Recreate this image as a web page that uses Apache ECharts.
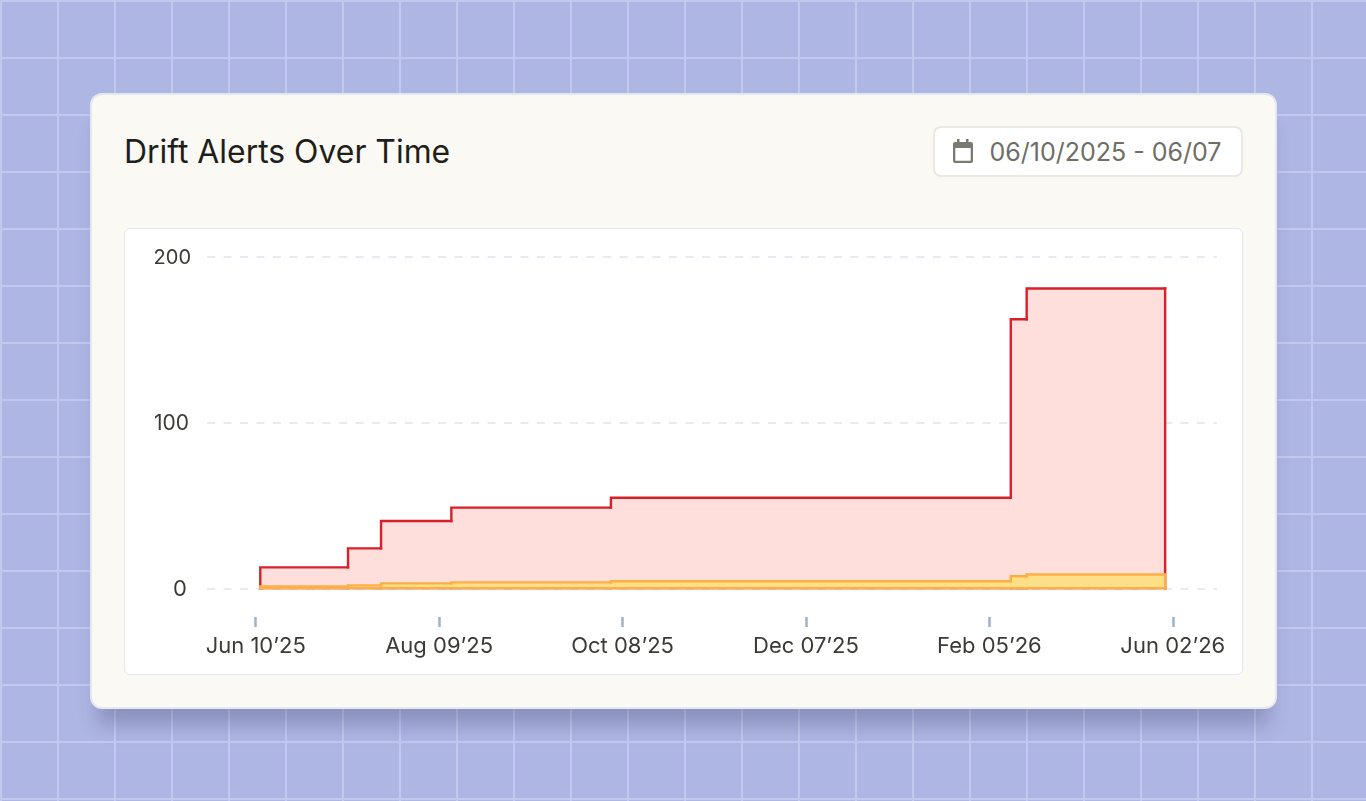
<!DOCTYPE html>
<html><head><meta charset="utf-8">
<script src="https://cdn.jsdelivr.net/npm/echarts@6/dist/echarts.min.js"></script>
<style>
html,body{margin:0;padding:0;width:1366px;height:801px;overflow:hidden;font-family:Inter,sans-serif}
body{background-color:#aeb6e3;background-image:linear-gradient(#c3c9ee 2px,transparent 2px),linear-gradient(90deg,#c3c9ee 2px,transparent 2px);background-size:57px 57px;background-position:0 0}
#card{position:absolute;left:90px;top:93px;width:1187px;height:616px;box-sizing:border-box;background:#fbf9f4;border:2px solid #e5e8f1;border-radius:12px;box-shadow:0 24px 20px -8px rgba(50,50,90,.28)}
#title{position:absolute;left:124px;top:131px;font-size:31.9px;line-height:42px;color:#1f1e1b;white-space:nowrap}
#date{position:absolute;left:933px;top:126px;width:310px;height:51px;box-sizing:border-box;background:#fff;border:2px solid #ebe8e1;border-radius:8px}
#date svg{position:absolute;left:16px;top:10px}
#date span{position:absolute;left:54.500px;top:9px;font-size:25px;line-height:30px;color:#6f6e66;white-space:nowrap}
#panel{position:absolute;left:124px;top:228px;width:1119px;height:447px;box-sizing:border-box;background:#fff;border:1px solid #e3e8f0;border-radius:6px}
#chart{position:absolute;left:125px;top:229px;width:1117px;height:445px}
</style></head><body>
<div id="card"></div>
<div id="title">Drift Alerts Over Time</div>
<div id="date"><svg width="24" height="26" viewBox="0 0 24 26"><path fill="#7b7a72" d="M6 1h2.500v3H15V1h2.500v3H20a2 2 0 0 1 2 2v17a2 2 0 0 1-2 2H4a2 2 0 0 1-2-2V6a2 2 0 0 1 2-2h2zM4.300 10v12.700h15.400V10z"/></svg><span>06/10/2025 - 06/07</span></div>
<div id="panel"></div>
<div id="chart"></div>
<script>
var tickLabels=["Jun 10’25","Aug 09’25","Oct 08’25","Dec 07’25","Feb 05’26","Jun 02’26"];
var tickDays=[0,60,120,180,240,300];
var yTicks=[0,100,200];
var stepDays=[1.5,30.2,41,64,116.2,247,252.2,297.5];
var redValues=[13,24.5,41,49,55,162.5,181];
var orangeValues=[1.6,2.2,3.4,4,4.7,7.7,8.7];
var baseValue=0.5;
function stepData(values){
  return values.map(function(v,i){
    return [stepDays[i],stepDays[i+1],v,i?values[i-1]:baseValue];
  });
}
function stepSeries(values,stroke,fill,z){
  var last=values.length-1;
  return {type:'custom',data:stepData(values),z:z,clip:false,silent:true,
    encode:{x:[0,1],y:2},
    renderItem:function(params,api){
      var s=api.value(0),e=api.value(1),v=api.value(2),p=api.value(3);
      var tl=api.coord([s,v]),tr=api.coord([e,v]),bl=api.coord([s,baseValue]),br=api.coord([e,baseValue]),pl=api.coord([s,p]);
      var over=params.dataIndex<last?0.6:0;
      var line={stroke:stroke,lineWidth:2.4,fill:null,lineJoin:'miter',lineCap:'square'};
      var kids=[
        {type:'polygon',z2:1,shape:{points:[tl,[tr[0]+over,tr[1]],[br[0]+over,br[1]],bl]},style:{fill:fill}},
        {type:'polyline',z2:5,shape:{points:[pl,tl,tr]},style:line},
        {type:'polyline',z2:5,shape:{points:[bl,br]},style:line}
      ];
      if(params.dataIndex===last){kids.push({type:'polyline',z2:5,shape:{points:[tr,br]},style:line});}
      return {type:'group',children:kids};
    }};
}
var ch=echarts.init(document.getElementById('chart'),null,{renderer:'canvas'});
var ff='Inter';
var xMin=-15.93,xMax=314.46;
ch.setOption({
  animation:false,
  grid:[{left:82,right:25,top:28,bottom:85},{left:82,right:25,top:387,height:1}],
  xAxis:[
    {type:'value',gridIndex:0,min:xMin,max:xMax,show:false},
    {type:'value',gridIndex:1,min:xMin,max:xMax,splitLine:{show:false},axisLine:{show:false},
     axisTick:{show:true,customValues:tickDays,length:10,lineStyle:{color:'#9fb0cb',width:2.500}},
     axisLabel:{customValues:tickDays,color:'#3a3a36',fontFamily:ff,fontSize:22,margin:18,hideOverlap:false,
       formatter:function(v){return tickLabels[tickDays.indexOf(v)];}}}
  ],
  yAxis:[
    {type:'value',gridIndex:0,min:0,max:200,interval:100,axisLine:{show:false},axisTick:{show:false},
     axisLabel:{margin:16,customValues:yTicks,color:'#3a3a36',fontFamily:ff,
       formatter:function(v){return v===0?'{c|0}':(v===100?'{b|100}':'{a|200}');},
       rich:{
         a:{fontFamily:ff,fontSize:20,color:'#3a3a36',padding:[2,0,0,0]},
         b:{fontFamily:ff,fontSize:21,color:'#3a3a36',padding:[2,2,0,0]},
         c:{fontFamily:ff,fontSize:22,color:'#3a3a36',padding:[1,4,0,0]}
       }},
     splitLine:{lineStyle:{color:'#e5eaf3',type:[8,8.500],width:2}}},
    {type:'value',gridIndex:1,min:0,max:1,show:false}
  ],
  series:[
    stepSeries(redValues,'#d81f2a','#fedfdc',2),
    stepSeries(orangeValues,'#fdae45','#fbe087',3)
  ]
});
</script>
</body></html>
